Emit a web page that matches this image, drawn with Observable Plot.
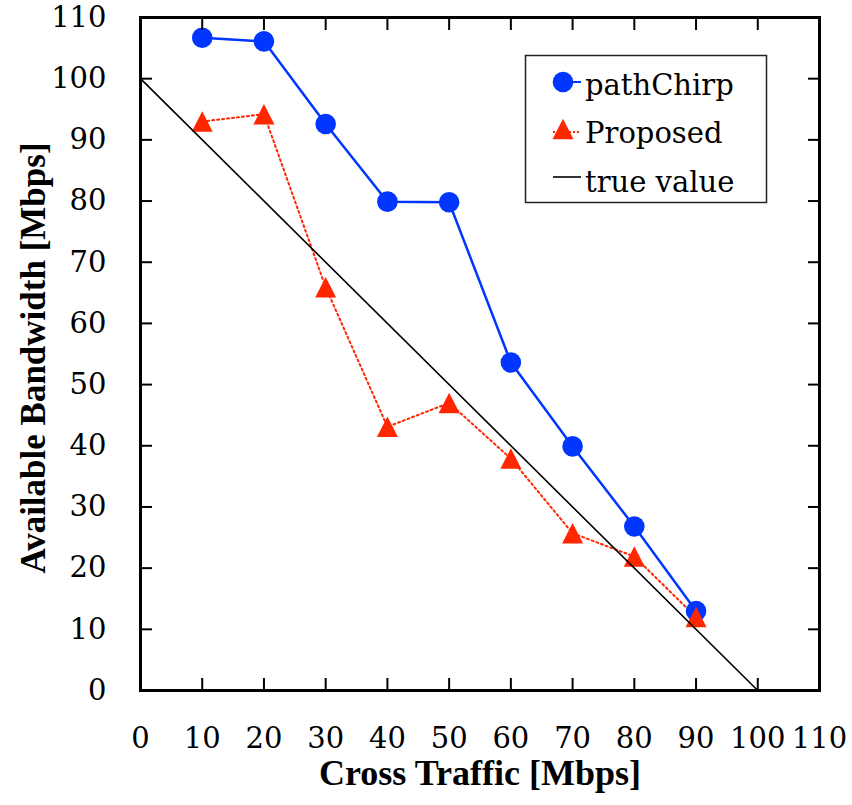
<!DOCTYPE html>
<html>
<head>
<meta charset="utf-8">
<script src="https://cdn.jsdelivr.net/npm/d3@7"></script>
<script src="https://cdn.jsdelivr.net/npm/@observablehq/plot@0.6"></script>
<style>
  body { margin: 0; background: #fff; }
  #wrap { position: relative; width: 852px; height: 805px; }
  #legend { position: absolute; left: 0; top: 0; pointer-events: none; }
</style>
</head>
<body>
<div id="wrap"></div>
<script>
// ---- data ----
const crossTraffic = [10, 20, 30, 40, 50, 60, 70, 80, 90];
const pathChirp = [106.7, 106.1, 92.6, 79.9, 79.8, 53.6, 39.9, 26.8, 13.0];
const proposed = [93.0, 94.2, 65.9, 43.1, 47.0, 37.9, 25.7, 21.9, 12.0];
const trueX = [0, 100];
const trueY = [100, 0];
const axisTicks = [0, 10, 20, 30, 40, 50, 60, 70, 80, 90, 100, 110];
const seriesNames = ["pathChirp", "Proposed", "true value"];
const xLabel = "Cross Traffic [Mbps]";
const yLabel = "Available Bandwidth [Mbps]";

const blue = "#0036ff";
const red = "#ff2600";

const chirpRows = crossTraffic.map((x, i) => ({x, y: pathChirp[i]}));
const propRows = crossTraffic.map((x, i) => ({x, y: proposed[i]}));
const trueRows = trueX.map((x, i) => ({x, y: trueY[i]}));

const triangle = {
  draw(ctx) {
    const w = 10.5, h = 20.5;
    ctx.moveTo(0, -h / 2);
    ctx.lineTo(w, h / 2);
    ctx.lineTo(-w, h / 2);
    ctx.closePath();
  }
};

const chart = Plot.plot({
  width: 852,
  height: 805,
  marginLeft: 140,
  marginRight: 33,
  marginTop: 17,
  marginBottom: 115,
  x: {domain: [0, 110]},
  y: {domain: [0, 110]},
  style: {fontFamily: "'DejaVu Serif', serif", fontSize: "29px", color: "#000", background: "#fff"},
  marks: [
    Plot.line(chirpRows, {x: "x", y: "y", stroke: blue, strokeWidth: 2.5}),
    Plot.line(propRows, {x: "x", y: "y", stroke: red, strokeWidth: 2, strokeDasharray: "2,3"}),
    Plot.dot(chirpRows, {x: "x", y: "y", r: 10.3, fill: blue}),
    Plot.dot(propRows, {x: "x", y: "y", symbol: triangle, fill: red}),
    Plot.line(trueRows, {x: "x", y: "y", stroke: "#000", strokeWidth: 1.6}),
    Plot.frame({stroke: "#000", strokeWidth: 3}),
    Plot.axisX(axisTicks, {anchor: "bottom", tickSize: -12, tickPadding: 49, strokeWidth: 2, label: null}),
    Plot.axisX(axisTicks, {anchor: "top", tickSize: -12, strokeWidth: 2, tickFormat: () => "", label: null}),
    Plot.axisY(axisTicks, {anchor: "left", tickSize: -12, tickPadding: 46, strokeWidth: 2, label: null}),
    Plot.axisY(axisTicks, {anchor: "right", tickSize: -12, strokeWidth: 2, tickFormat: () => "", label: null}),
    Plot.text([xLabel], {text: d => d, frameAnchor: "bottom", lineAnchor: "middle", textAnchor: "middle", dy: 83, fontWeight: "bold", fontFamily: "'Liberation Serif', serif", fontSize: 36}),
    Plot.text([yLabel], {text: d => d, frameAnchor: "left", lineAnchor: "middle", textAnchor: "middle", rotate: -90, dx: -107, dy: 4, fontWeight: "bold", fontFamily: "'Liberation Serif', serif", fontSize: 35})
  ]
});

const wrap = document.getElementById("wrap");
wrap.appendChild(chart);

// ---- legend (HTML overlay) ----
const ns = "http://www.w3.org/2000/svg";
const leg = document.createElementNS(ns, "svg");
leg.setAttribute("id", "legend");
leg.setAttribute("width", 852);
leg.setAttribute("height", 805);
function el(tag, attrs, text) {
  const e = document.createElementNS(ns, tag);
  for (const k in attrs) e.setAttribute(k, attrs[k]);
  if (text != null) e.textContent = text;
  leg.appendChild(e);
  return e;
}
el("rect", {x: 525.5, y: 55.5, width: 241, height: 147, fill: "#fff", stroke: "#222", "stroke-width": 1.5});
const rows = [
  {y: 82, ty: 95},
  {y: 129, ty: 143},
  {y: 177, ty: 192}
];
// pathChirp
el("line", {x1: 553, x2: 581, y1: rows[0].y, y2: rows[0].y, stroke: blue, "stroke-width": 2});
el("circle", {cx: 563, cy: rows[0].y, r: 10.3, fill: blue});
// Proposed
el("line", {x1: 553, x2: 581, y1: rows[1].y + 3, y2: rows[1].y + 3, stroke: red, "stroke-width": 2, "stroke-dasharray": "2,2"});
el("path", {d: `M563,${rows[1].y - 10.25}L573.5,${rows[1].y + 10.25}L552.5,${rows[1].y + 10.25}Z`, fill: red});
// true value
el("line", {x1: 553, x2: 581, y1: rows[2].y, y2: rows[2].y, stroke: "#000", "stroke-width": 1.6});
seriesNames.forEach((name, i) => {
  el("text", {x: 585, y: rows[i].ty, "font-family": "'DejaVu Serif', serif", "font-size": 29, fill: "#000"}, name);
});
wrap.appendChild(leg);
</script>
</body>
</html>
